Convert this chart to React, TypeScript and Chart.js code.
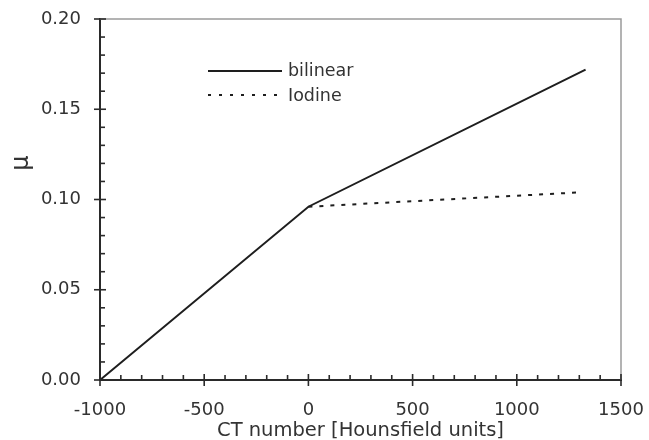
import React, { useEffect, useRef } from "react";
import { Chart, registerables } from "chart.js";

Chart.register(...registerables);

const bilinearX = [-1000, 0, 1330];
const bilinearY = [0, 0.096, 0.172];
const iodineX = [0, 1310];
const iodineY = [0.096, 0.104];
const xTickValues = [-1000, -500, 0, 500, 1000, 1500];
const yTickValues = [0, 0.05, 0.1, 0.15, 0.2];
const seriesNames = ["bilinear", "Iodine"];
const xTitle = "CT number [Hounsfield units]";
const yTitle = "μ";

const FONT = "'DejaVu Sans', Verdana, sans-serif";

const decor = {
  id: "decor",
  afterDraw(chart: any) {
    const { ctx, chartArea } = chart;
    const xs = chart.scales.x;
    const ys = chart.scales.y;
    ctx.save();
    // top/right frame
    ctx.strokeStyle = "#9a9a9a";
    ctx.lineWidth = 1.5;
    ctx.beginPath();
    ctx.moveTo(chartArea.left, chartArea.top);
    ctx.lineTo(chartArea.right, chartArea.top);
    ctx.lineTo(chartArea.right, chartArea.bottom);
    ctx.stroke();
    // ticks
    ctx.strokeStyle = "#2a2a2a";
    ctx.lineWidth = 1.6;
    const xAxisY = chartArea.bottom;
    for (let i = 0; i < xTickValues.length; i++) {
      const v = xTickValues[i];
      const px = xs.getPixelForValue(v);
      ctx.beginPath();
      ctx.moveTo(px, xAxisY - 6);
      ctx.lineTo(px, xAxisY + 6);
      ctx.stroke();
      if (i < xTickValues.length - 1) {
        const step = (xTickValues[i + 1] - v) / 5;
        for (let k = 1; k < 5; k++) {
          const mp = xs.getPixelForValue(v + step * k);
          ctx.beginPath();
          ctx.moveTo(mp, xAxisY - 5);
          ctx.lineTo(mp, xAxisY);
          ctx.stroke();
        }
      }
    }
    const yAxisX = chartArea.left;
    for (let i = 0; i < yTickValues.length; i++) {
      const v = yTickValues[i];
      const py = ys.getPixelForValue(v);
      ctx.beginPath();
      ctx.moveTo(yAxisX - 6, py);
      ctx.lineTo(yAxisX + 6, py);
      ctx.stroke();
      if (i < yTickValues.length - 1) {
        const step = (yTickValues[i + 1] - v) / 5;
        for (let k = 1; k < 5; k++) {
          const mp = ys.getPixelForValue(v + step * k);
          ctx.beginPath();
          ctx.moveTo(yAxisX, mp);
          ctx.lineTo(yAxisX + 5, mp);
          ctx.stroke();
        }
      }
    }
    // legend
    ctx.strokeStyle = "#1e1e1e";
    ctx.lineWidth = 2;
    ctx.setLineDash([]);
    ctx.beginPath();
    ctx.moveTo(208, 71);
    ctx.lineTo(282, 71);
    ctx.stroke();
    ctx.setLineDash([3, 8]);
    ctx.beginPath();
    ctx.moveTo(208, 95);
    ctx.lineTo(282, 95);
    ctx.stroke();
    ctx.setLineDash([]);
    ctx.fillStyle = "#333";
    ctx.font = `17.5px ${FONT}`;
    ctx.textBaseline = "middle";
    ctx.textAlign = "left";
    ctx.fillText(seriesNames[0], 288, 71);
    ctx.fillText(seriesNames[1], 288, 96);
    // y title
    ctx.save();
    ctx.translate(22, 163);
    ctx.rotate(-Math.PI / 2);
    ctx.font = `24px ${FONT}`;
    ctx.textAlign = "center";
    ctx.textBaseline = "middle";
    ctx.fillText(yTitle, 0, 0);
    ctx.restore();
    ctx.restore();
  },
};

export default function App() {
  const ref = useRef<HTMLCanvasElement>(null);
  useEffect(() => {
    document.body.style.margin = "0";
    const chart = new Chart(ref.current as HTMLCanvasElement, {
      type: "line",
      data: {
        datasets: [
          {
            label: seriesNames[0],
            data: bilinearX.map((x, i) => ({ x, y: bilinearY[i] })),
            borderColor: "#1e1e1e",
            borderWidth: 2,
            pointRadius: 0,
            tension: 0,
          },
          {
            label: seriesNames[1],
            data: iodineX.map((x, i) => ({ x, y: iodineY[i] })),
            borderColor: "#1e1e1e",
            borderWidth: 2,
            borderDash: [4, 7],
            pointRadius: 0,
            tension: 0,
          },
        ],
      },
      options: {
        animation: false,
        responsive: true,
        maintainAspectRatio: false,
        layout: { padding: { left: 0, right: 28, top: 19, bottom: 0 } },
        plugins: { legend: { display: false }, tooltip: { enabled: false } },
        scales: {
          x: {
            type: "linear",
            min: -1000,
            max: 1500,
            afterFit: (s: any) => {
              s.height = 60;
              s.paddingLeft = 0;
              s.paddingRight = 0;
            },
            afterBuildTicks: (s: any) => {
              s.ticks = xTickValues.map((v) => ({ value: v }));
            },
            grid: { display: false, drawTicks: false },
            border: { display: true, color: "#2a2a2a", width: 2 },
            ticks: {
              padding: 20,
              color: "#333",
              font: { family: FONT, size: 18 },
              maxRotation: 0,
              autoSkip: false,
              callback: (v: any) => String(v),
            },
            title: {
              display: true,
              text: xTitle,
              color: "#333",
              font: { family: FONT, size: 19.5 },
              padding: { top: 0, bottom: -3 },
            },
          },
          y: {
            type: "linear",
            min: 0,
            max: 0.2,
            afterFit: (s: any) => {
              s.width = 100;
              s.paddingTop = 0;
              s.paddingBottom = 0;
            },
            afterBuildTicks: (s: any) => {
              s.ticks = yTickValues.map((v) => ({ value: v }));
            },
            grid: { display: false, drawTicks: false },
            border: { display: true, color: "#2a2a2a", width: 2 },
            ticks: {
              padding: 19,
              color: "#333",
              font: { family: FONT, size: 18 },
              autoSkip: false,
              callback: (v: any) => Number(v).toFixed(2),
            },
          },
        },
      },
      plugins: [decor],
    });
    return () => chart.destroy();
  }, []);
  return (
    <div style={{ position: "absolute", left: 0, top: 0, width: 649, height: 440 }}>
      <canvas ref={ref} />
    </div>
  );
}
